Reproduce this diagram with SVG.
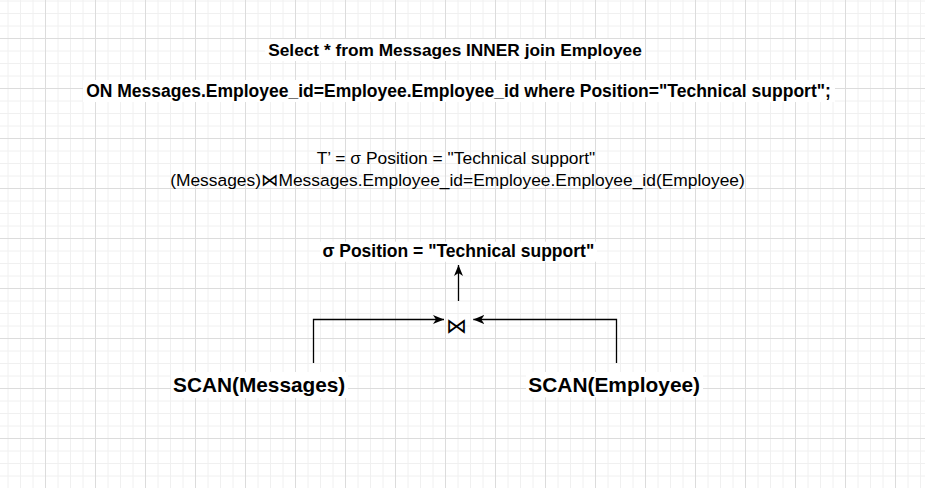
<svg xmlns="http://www.w3.org/2000/svg" width="925" height="488" viewBox="0 0 925 488">
  <defs>
    <pattern id="grid" patternUnits="userSpaceOnUse" x="45" y="38" width="50" height="50">
      <path d="M13 0V50M25.5 0V50M38 0V50M0 13H50M0 25.5H50M0 38H50" stroke="#f0f0f0" stroke-width="1" fill="none"/>
      <path d="M0.5 0V50M0 0.5H50" stroke="#dcdcdc" stroke-width="1" fill="none"/>
    </pattern>
    <marker id="arrow" markerUnits="userSpaceOnUse" markerWidth="12" markerHeight="10" refX="11" refY="4.5" orient="auto">
      <path d="M0,0 L11,4.5 L0,9 L3,4.5 Z" fill="#000"/>
    </marker>
  </defs>
  <style>
    .b { font-family: "Liberation Sans", Arial, sans-serif; font-weight: bold; fill: #000; text-anchor: middle; }
    .n { font-family: "Liberation Sans", Arial, sans-serif; fill: #000; text-anchor: middle; }
    .bg { fill: #fff; }
    .edge { fill: none; stroke: #000; stroke-width: 1.3; }
  </style>
  <rect width="925" height="488" fill="#fff"/>
  <rect width="925" height="488" fill="url(#grid)"/>

  <g id="title">
    <rect class="bg" x="265" y="39" width="380" height="22"/>
    <text class="b" x="455" y="55.7" font-size="17.3">Select * from Messages INNER join Employee</text>
  </g>
  <g id="query">
    <rect class="bg" x="83" y="80" width="752" height="22"/>
    <text class="b" x="458.5" y="96.5" font-size="17.5">ON Messages.Employee_id=Employee.Employee_id where Position="Technical support";</text>
  </g>
  <g id="algebra">
    <text class="n" x="456" y="164" font-size="17.4">T’ = σ Position = "Technical support"</text>
    <text class="n" x="457.5" y="185.7" font-size="17.4">(Messages)<tspan font-family="'DejaVu Sans', sans-serif">⋈</tspan>Messages.Employee_id=Employee.Employee_id(Employee)</text>
  </g>
  <g id="select">
    <rect class="bg" x="320" y="241.7" width="277" height="20"/>
    <text class="b" x="458.3" y="256.7" font-size="17.5">σ Position = "Technical support"</text>
  </g>
  <g id="join">
    <text x="456.6" y="332.5" font-size="21" text-anchor="middle" font-family="'DejaVu Sans', sans-serif" fill="#000">⋈</text>
  </g>
  <g id="scan-messages">
    <rect class="bg" x="171" y="372" width="177" height="26"/>
    <text class="b" x="259.2" y="392.3" font-size="20.8">SCAN(Messages)</text>
  </g>
  <g id="scan-employee">
    <rect class="bg" x="526" y="372" width="177" height="25.3"/>
    <text class="b" x="614.2" y="391.7" font-size="20.9">SCAN(Employee)</text>
  </g>

  <g id="connectors">
    <path class="edge" d="M313.5 363V319.5H444" marker-end="url(#arrow)"/>
    <path class="edge" d="M616.5 363V319.5H473.3" marker-end="url(#arrow)"/>
    <path class="edge" d="M458.5 301V265" marker-end="url(#arrow)"/>
  </g>
</svg>
